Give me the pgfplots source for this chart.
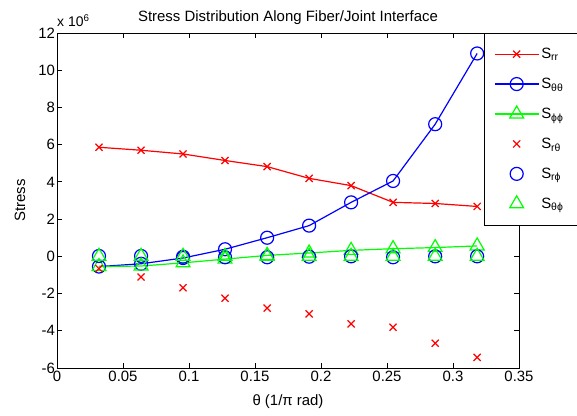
\documentclass[border=0pt]{standalone}
\usepackage{fontspec}
\setmainfont{Liberation Sans}
\usepackage{pgfplots}
\pgfplotsset{compat=1.18}
\definecolor{mred}{RGB}{255,0,0}
\definecolor{mblue}{RGB}{0,0,255}
\definecolor{mgreen}{RGB}{0,255,0}
\newcommand{\lent}[1]{\makebox[55bp][l]{#1}}

\begin{document}
\begin{tikzpicture}
\begin{axis}[
  scale only axis, width=462bp, height=335bp,
  xmin=0, xmax=0.35, ymin=-6, ymax=12,
  xtick={0,0.05,...,0.35}, ytick={-6,-4,...,12},
  /pgf/number format/assume math mode=true,
  xticklabel style={/pgf/number format/fixed, /pgf/number format/precision=2},
  tick label style={font=\fontsize{15}{17}\selectfont},
  yticklabel style={xshift=1.5bp},
  tick align=inside, major tick length=5bp,
  axis line style={line width=0.8bp},
  every tick/.style={black, line width=0.8bp},
  title={Stress Distribution Along Fiber/Joint Interface},
  title style={font=\fontsize{15}{17}\selectfont, at={(axis description cs:0.5,1)}, anchor=base, yshift=6bp},
  xlabel={θ (1/π rad)},
  xlabel style={font=\fontsize{15}{17}\selectfont, at={(axis description cs:0.5,-0.1)}, anchor=center},
  ylabel={Stress},
  ylabel style={font=\fontsize{15}{17}\selectfont, at={(axis description cs:-0.08,0.5)}, anchor=center},
  legend style={at={(axis description cs:0.924,1)}, anchor=north west,
    font=\fontsize{15}{17}\selectfont, draw=black, fill=white,
    row sep=14bp, inner ysep=13bp, inner xsep=10bp},
  legend cell align=left,
  legend image code/.code={\draw[line width=1.2bp, mark repeat=2, mark phase=2] plot coordinates {(0bp,0bp) (22bp,0bp) (44bp,0bp)};},
]
\addplot[mred, line width=1.2bp, mark=x, mark size=5bp] coordinates {
(0.0318,5.86) (0.0637,5.70) (0.0955,5.50) (0.1273,5.15) (0.1592,4.82)
(0.1910,4.19) (0.2228,3.80) (0.2546,2.90) (0.2865,2.84) (0.3183,2.68)};
\addlegendentry{\lent{S\textsubscript{rr}}}
\addplot[mblue, line width=1.2bp, mark=o, mark size=6.5bp] coordinates {
(0.0318,-0.55) (0.0637,-0.40) (0.0955,-0.09) (0.1273,0.38) (0.1592,1.00)
(0.1910,1.65) (0.2228,2.90) (0.2546,4.05) (0.2865,7.10) (0.3183,10.90)};
\addlegendentry{\lent{S\textsubscript{θθ}}}
\addplot[mgreen, line width=1.2bp, mark=triangle, mark size=8bp] coordinates {
(0.0318,-0.55) (0.0637,-0.52) (0.0955,-0.35) (0.1273,-0.15) (0.1592,0.05)
(0.1910,0.18) (0.2228,0.32) (0.2546,0.41) (0.2865,0.47) (0.3183,0.56)};
\addlegendentry{\lent{S\textsubscript{ϕϕ}}}
\addplot[mred, line width=1.2bp, only marks, mark=x, mark size=5bp] coordinates {
(0.0318,-0.66) (0.0637,-1.11) (0.0955,-1.69) (0.1273,-2.25) (0.1592,-2.78)
(0.1910,-3.09) (0.2228,-3.63) (0.2546,-3.81) (0.2865,-4.67) (0.3183,-5.43)};
\addlegendentry{\lent{S\textsubscript{rθ}}}
\addplot[mblue, line width=1.2bp, only marks, mark=o, mark size=6.5bp] coordinates {
(0.0318,0.02) (0.0637,0.02) (0.0955,-0.02) (0.1273,-0.05) (0.1592,-0.05)
(0.1910,-0.02) (0.2228,0.0) (0.2546,-0.05) (0.2865,0.0) (0.3183,0.0)};
\addlegendentry{\lent{S\textsubscript{rϕ}}}
\addplot[mgreen, line width=1.2bp, only marks, mark=triangle, mark size=8bp] coordinates {
(0.0318,0.0) (0.0637,0.0) (0.0955,0.0) (0.1273,0.0) (0.1592,0.0)
(0.1910,0.0) (0.2228,0.0) (0.2546,0.0) (0.2865,0.0) (0.3183,0.0)};
\addlegendentry{\lent{S\textsubscript{θϕ}}}
\end{axis}
\node[font=\fontsize{14}{16}\selectfont, anchor=base west, inner sep=0pt] at ([yshift=6bp]current axis.north west) {x 10\textsuperscript{6}};
\pgfresetboundingbox
\path[use as bounding box] ([shift={(-57bp,-48bp)}]current axis.south west) rectangle ([shift={(58bp,33bp)}]current axis.north east);
\end{tikzpicture}
\end{document}
